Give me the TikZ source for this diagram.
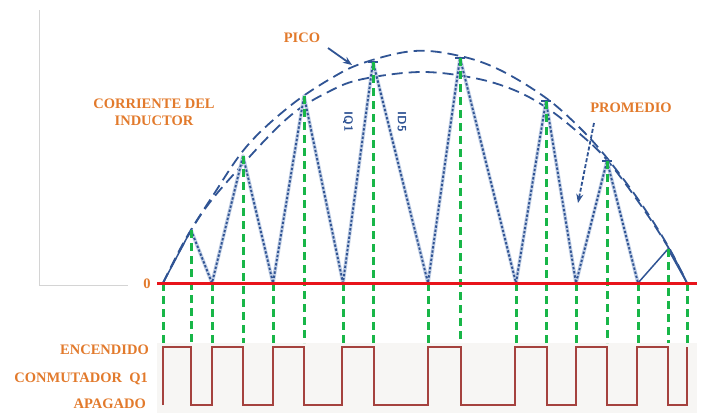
\documentclass[tikz,border=0pt]{standalone}
\usepackage{fontspec}
\setmainfont{Liberation Serif}
\usetikzlibrary{arrows.meta}
\definecolor{lbl}{RGB}{226,122,44}
\definecolor{wave}{RGB}{48,84,148}
\definecolor{halo}{RGB}{196,209,230}
\definecolor{grn}{RGB}{24,182,72}
\definecolor{sq}{RGB}{165,66,62}
\definecolor{zeroc}{RGB}{232,20,27}
\definecolor{axisg}{RGB}{212,212,212}
\definecolor{panel}{RGB}{247,246,244}
\tikzset{
  lab/.style={text=lbl, font=\bfseries\fontsize{14.5}{17}\selectfont, inner sep=0pt},
  sublab/.style={text=wave, font=\sffamily\bfseries\fontsize{12}{12}\selectfont, inner sep=0pt},
  tri/.style={wave, line width=1.9pt, dash pattern=on 2.4pt off 1.8pt, line join=round},
  trihalo/.style={halo, line width=3.6pt, line join=round},
  trisolid/.style={wave, line width=1.5pt, line join=round},
  env/.style={wave, line width=1.8pt, dash pattern=on 11pt off 6pt},
  guide/.style={grn, line width=3pt, dash pattern=on 8pt off 5pt},
  sqw/.style={sq, line width=2.5pt, line join=miter},
  pointer/.style={wave, line width=1.8pt, -{Stealth[length=9pt,width=7pt]}},
  peakcap/.style={wave, line width=1.8pt}
}
\begin{document}
\begin{tikzpicture}[x=1pt,y=-1pt]
\path[use as bounding box] (0,0) rectangle (728,413);
% panel behind switch signal
\fill[panel] (157,343) rectangle (697,413);
% light axis
\draw[axisg, line width=0.8pt] (39,10) -- (39,285) -- (128,285);

% key points of triangle wave
\coordinate (Z0) at (163,283);
\coordinate (P1) at (191,230);
\coordinate (Z1) at (212,283);
\coordinate (P2) at (243,156);
\coordinate (Z2) at (273,283);
\coordinate (P3) at (304,96);
\coordinate (Z3) at (343,283);
\coordinate (P4) at (373,62);
\coordinate (Z4) at (428,283);
\coordinate (P5) at (460,58);
\coordinate (Z5) at (516,283);
\coordinate (P6) at (546,101);
\coordinate (Z6) at (576,283);
\coordinate (P7) at (607,161);
\coordinate (Z7) at (638,283);
\coordinate (P8) at (668,249);
\coordinate (Z8) at (687,283);
\coordinate (base) at (0,343);

% envelopes
\draw[env] plot[smooth, tension=0.6] coordinates {(163,283) (185,240) (212,197) (247,146) (290,106) (330,79) (363,63) (414,51) (460,56) (500,70) (546,98) (580,128) (607,158) (640,202) (668,246) (687,283)};
\draw[env] plot[smooth, tension=0.6] coordinates {(163,283) (200,216) (243,164) (290,116) (330,91) (363,79) (421,72) (474,78) (514,90) (547,108) (580,134) (607,160) (640,204) (668,247) (687,283)};

% triangle wave (inductor current)
\draw[trihalo] (P1) -- (Z1) -- (P2) -- (Z2) -- (P3) -- (Z3) -- (P4) -- (Z4) -- (P5) -- (Z5) -- (P6) -- (Z6) -- (P7) -- (Z7);
\draw[tri] (P1) -- (Z1) -- (P2) -- (Z2) -- (P3) -- (Z3) -- (P4) -- (Z4) -- (P5) -- (Z5) -- (P6) -- (Z6) -- (P7) -- (Z7);
\draw[trisolid] (Z0) -- (P1);
\draw[trisolid] (Z7) -- (P8) -- (Z8);

% peak caps
\foreach \p in {P4,P5,P6,P7}
  \draw[peakcap] ([xshift=-5pt]\p) -- ([xshift=5pt]\p);

% green guide lines
\foreach \p in {Z0,P1,Z1,P2,Z2,P3,Z3,P4,Z4,P5,Z5,P6,Z6,P7,Z7,P8,Z8}
  \draw[guide] (\p) -- (\p |- base);

% zero line
\coordinate (zl) at (157,283);
\coordinate (zr) at (697,283);
\draw[zeroc, line width=3pt] (zl) -- (zr);

% switch signal
\draw[sqw] (163,405) -- (163,347) -- (191,347) -- (191,405) -- (212,405) -- (212,347)
  -- (243,347) -- (243,405) -- (273,405) -- (273,347) -- (304,347) -- (304,405)
  -- (342,405) -- (342,347) -- (374,347) -- (374,405) -- (428,405) -- (428,347)
  -- (461,347) -- (461,405) -- (515,405) -- (515,347) -- (547,347) -- (547,405)
  -- (576,405) -- (576,347) -- (607,347) -- (607,405) -- (637,405) -- (637,347)
  -- (668,347) -- (668,405) -- (687,405) -- (687,347);

% labels
\node[lab] (zero) at (147,284) {0};
\node[lab, align=center] (il) at (154,112) {CORRIENTE DEL\\INDUCTOR};
\node[lab] (pico) at (302,38) {PICO};
\node[lab] (prom) at (631,108) {PROMEDIO};
\node[lab, anchor=east] (enc) at (149,350) {ENCENDIDO};
\node[lab, anchor=east] (conm) at (148,379) {CONMUTADOR\ \ Q1};
\node[lab, anchor=east] (apa) at (146,404) {APAGADO};
\node[sublab, rotate=-90] (iq) at (348,122) {IQ1};
\node[sublab, rotate=-90] (id) at (402,122) {ID5};

% pointers
\coordinate (picoS) at (328,48);
\coordinate (picoE) at (352,65);
\draw[pointer] (picoS) -- (picoE);
\coordinate (promS) at (594,123);
\coordinate (promE) at (578,203);
\draw[pointer, dash pattern=on 4pt off 2pt] (promS) -- (promE);
\end{tikzpicture}
\end{document}
